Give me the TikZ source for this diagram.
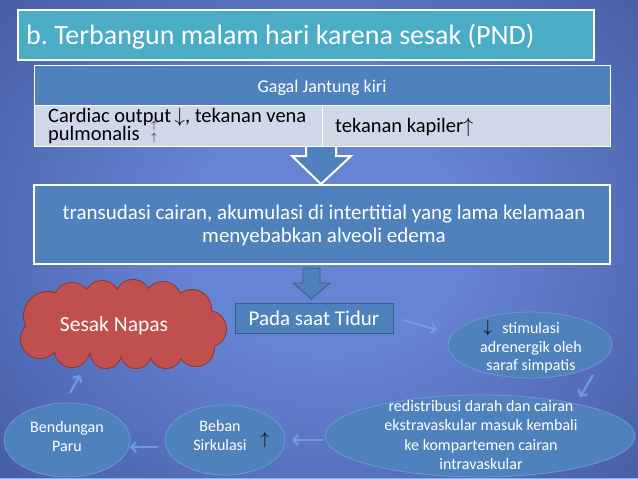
\documentclass[tikz,border=0pt]{standalone}
\usepackage{fontspec}
\setmainfont{Carlito}
\frenchspacing
\usetikzlibrary{shapes.geometric,arrows.meta,calc}
\definecolor{bgin}{RGB}{102,132,212}
\definecolor{bgout}{RGB}{24,36,96}
\definecolor{titleteal}{RGB}{75,172,198}
\definecolor{accent}{RGB}{79,129,189}
\definecolor{cellbg}{RGB}{208,216,232}
\definecolor{cloudred}{RGB}{192,80,77}
\definecolor{cloudline}{RGB}{140,56,54}
\definecolor{conncol}{RGB}{110,155,225}
\definecolor{darkline}{RGB}{56,93,138}
\definecolor{ellline}{RGB}{110,150,215}
\pgfdeclareradialshading{bgshade}{\pgfpoint{0bp}{0bp}}{color(0bp)=(bgin); color(8bp)=(bgin); color(50bp)=(bgout)}
\tikzset{
  fsz/.style n args={2}{font=\fontsize{#1}{#2}\selectfont},
  titlebox/.style={draw=white, line width=2pt, fill=titleteal, inner sep=0pt},
  hdrcell/.style={draw=white, line width=0.8pt, fill=accent, inner sep=0pt},
  bodycell/.style={draw=white, line width=0.8pt, fill=cellbg, inner sep=0pt},
  mainbox/.style={draw=white, line width=2pt, fill=accent, inner sep=0pt},
  smallbox/.style={draw=darkline, line width=0.8pt, fill=accent, inner sep=0pt},
  blockarrow/.style={draw=white, line width=2pt, fill=accent, line join=miter},
  smallarrow/.style={draw=darkline, line width=0.8pt, fill=accent},
  bubble/.style={ellipse, draw=ellline, line width=0.8pt, fill=accent, inner sep=0pt},
  wtext/.style={text=white, inner sep=0pt},
  btext/.style={text=black, inner sep=0pt},
  conn/.style={draw=conncol, line width=2.2pt, -{Straight Barb[length=4.5pt,width=10pt,line width=2.2pt]}},
}
\newcommand{\cloudpuffs}{%
  (48,316) circle [radius=24pt]
  (40,339) circle [radius=19pt]
  (72,301) circle [radius=18pt]
  (102,298) circle [radius=17pt]
  (133,297) circle [radius=17pt]
  (163,300) circle [radius=18pt]
  (192,309) circle [radius=19pt]
  (208,329) circle [radius=18pt]
  (196,348) circle [radius=18pt]
  (166,352) circle [radius=16pt]
  (136,353) circle [radius=15pt]
  (106,353) circle [radius=15pt]
  (72,350) circle [radius=17pt]}
\begin{document}
\begin{tikzpicture}[x=1pt,y=-1pt]
\useasboundingbox (0,0) rectangle (638,479);
\fill[bgout] (0,0) rectangle (638,479);
\begin{scope}
\clip (0,0) rectangle (638,479);
\fill[shading=bgshade] (325,235) ellipse [x radius=440pt, y radius=370pt];
\fill[conncol!80] (0,477.5) rectangle (638,479);
\end{scope}

% title
\node[titlebox, minimum width=576pt, minimum height=50pt] (title) at (306,35) {};
\node[wtext, fsz={28}{30}, anchor=base west] (titletext) at (26,45) {b. Terbangun malam hari karena sesak (PND)};

% big block arrow
\draw[blockarrow] (306,140) -- (306,156) -- (292,156) -- (321,184) -- (351,156) -- (336,156) -- (336,140) -- cycle;

% table
\node[hdrcell, minimum width=576pt, minimum height=40pt] (hdr) at (322,85) {};
\node[wtext, fsz={18}{20}, anchor=base] (hdrtext) at (322,92) {Gagal Jantung kiri};
\node[bodycell, minimum width=288pt, minimum height=41pt] (cellL) at (178,125.5) {};
\node[bodycell, minimum width=288pt, minimum height=41pt] (cellR) at (466,125.5) {};
\node[btext, fsz={20.5}{22}, anchor=base west] (celltextL1) at (48,122) {Cardiac output\,$\downarrow$, tekanan vena};
\node[btext, fsz={20.5}{22}, anchor=base west] (celltextL2) at (48,140) {pulmonalis};
\node[btext, fsz={11}{11}] (upA) at (154,126) {$\uparrow$};
\node[btext, fsz={11}{11}] (upB) at (154,137.5) {$\uparrow$};
\node[btext, fsz={20.5}{22}, anchor=base west] (celltextR) at (335,132) {tekanan kapiler$\uparrow$};

% main box
\node[mainbox, minimum width=576pt, minimum height=79pt] (trans) at (322,224.5) {};
\node[wtext, fsz={21}{23}, align=center] (transtext) at (324,225) {transudasi cairan, akumulasi di intertitial yang lama kelamaan\\menyebabkan alveoli edema};

% small block arrow
\draw[smallarrow] (303,268) -- (303,283) -- (293,283) -- (311.5,299) -- (330,283) -- (320,283) -- (320,268) -- cycle;

% pada saat tidur
\node[smallbox, minimum width=158pt, minimum height=30pt] (pada) at (314,318) {};
\node[wtext, fsz={21}{22}] (padatext) at (314,318) {Pada saat Tidur};

% cloud (union of puffs: thick outline first, then fill over its inner half)
\draw[cloudline, line width=2pt] \cloudpuffs;
\fill[cloudred] \cloudpuffs;
\fill[cloudred] (124,326) ellipse [x radius=84pt, y radius=30pt];
\coordinate (cloud) at (124,325);
\node[wtext, fsz={21.5}{22}] (cloudtext) at (114,326) {Sesak Napas};

% ellipses
\node[bubble, minimum width=164pt, minimum height=66pt] (stim) at (530,345) {};
\node[wtext, fsz={16}{18.5}, align=center] (stimtext) at (531,348) {stimulasi\\adrenergik oleh\\saraf simpatis};
\node[btext, fsz={16}{16}] (stimdown) at (488,328) {$\downarrow$};

\node[bubble, minimum width=310pt, minimum height=82pt] (redis) at (480,436) {};
\node[wtext, fsz={16}{19.5}, align=center] (redistext) at (481,435) {redistribusi darah dan cairan\\ekstravaskular masuk kembali\\ke kompartemen cairan\\intravaskular};

\node[bubble, minimum width=120pt, minimum height=70pt] (beban) at (225,440) {};
\node[wtext, fsz={16}{19}, align=center] (bebantext) at (220,436) {Beban\\Sirkulasi};
\node[btext, fsz={16}{16}] (bebanup) at (265,440) {$\uparrow$};

\node[bubble, minimum width=126pt, minimum height=74pt] (bend) at (67,440) {};
\node[wtext, fsz={16}{19}, align=center] (bendtext) at (67,436.5) {Bendungan\\Paru};

% connectors
\draw[conn] ($(pada.center)+(89,2)$) -- ($(stim.center)+(-93,-15)$);
\draw[conn] ($(stim.center)+(63,30)$) -- ($(redis.center)+(100,-39)$);
\draw[conn] ($(redis.center)+(-157,4)$) -- ($(beban.center)+(67,0)$);
\draw[conn] ($(beban.center)+(-67,7)$) -- ($(bend.center)+(63,7)$);
\draw[conn] ($(bend.center)+(3,-47)$) -- ($(cloud)+(-44,50)$);
\end{tikzpicture}
\end{document}
